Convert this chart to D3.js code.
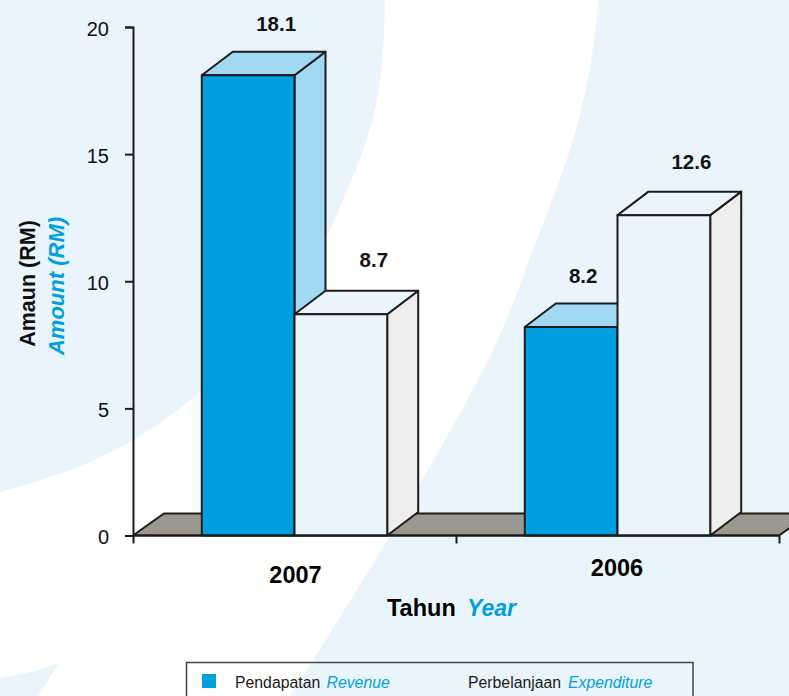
<!DOCTYPE html>
<html>
<head>
<meta charset="utf-8">
<script src="https://cdn.jsdelivr.net/npm/d3@7"></script>
<style>
  body { margin: 0; background: #fff; overflow: hidden; }
  text { font-family: "Liberation Sans", Arial, sans-serif; }
</style>
</head>
<body>
<script>
// Chart data
const years = ["2007", "2006"];
const seriesNames = ["Pendapatan", "Perbelanjaan"];
const seriesNamesEn = ["Revenue", "Expenditure"];
const revenue = [18.1, 8.2];
const expenditure = [8.7, 12.6];
const yTicks = [0, 5, 10, 15, 20];

// Set up the dimensions of the chart
const width = 789, height = 696;
const x0 = 133, x1 = 779, y0 = 535.5, y20 = 27;
const depthX = 31, depthY = 23.5;

const blue = "#009fe0", paleBlue = "#a1d9f5", tint = "#eaf5fb", sideGrey = "#ecedec";
const floorGrey = "#9c9791", ink = "#1c1c1c";

const seriesStyle = [
    { front: blue, top: paleBlue, side: paleBlue },
    { front: tint, top: tint, side: sideGrey }
];

const svg = d3.select("body")
    .append("svg")
    .attr("width", width)
    .attr("height", height)
    .style("display", "block");

// Background swooshes behind the chart
const swoosh = d3.line().curve(d3.curveCatmullRom.alpha(0.5));
const leftEdge = [[385, 0], [383, 50], [377, 100], [363, 150], [343, 200], [327, 235], [270, 320], [200, 392], [133, 440], [70, 470], [0, 492]];
const rightEdge = [[599, 0], [590, 67], [573, 140], [533, 250], [493, 350], [390, 535], [313, 660], [290, 696]];
const cornerEdge = [[0, 678], [30, 672], [59, 663]];

svg.append("path")
    .attr("d", swoosh(leftEdge) + "L0,0Z")
    .attr("fill", tint);
svg.append("path")
    .attr("d", swoosh(rightEdge) + "L789,696L789,0Z")
    .attr("fill", tint);
svg.append("path")
    .attr("d", swoosh(cornerEdge) + "L38,696L0,696Z")
    .attr("fill", tint);

// Scales
const xScale = d3.scaleBand().domain(years).range([x0, x1]);
const barScale = d3.scaleBand().domain(d3.range(2)).range([0, xScale.bandwidth()]).paddingOuter(0.742);
const yScale = d3.scaleLinear().domain([0, 20]).range([y0, y20]);

// Floor
svg.append("path")
    .attr("d", d3.line()([[x0, y0], [x0 + depthX, y0 - depthY + 1.5], [x1 + depthX, y0 - depthY + 1.5], [x1, y0]]) + "Z")
    .attr("fill", floorGrey)
    .attr("stroke", ink)
    .attr("stroke-width", 2);

// Bars, left to right so the nearer faces cover the sides behind them
const bars = [];
years.forEach((year, i) => {
    [revenue[i], expenditure[i]].forEach((value, s) => bars.push({ year, s, value }));
});

const barGroups = svg.selectAll("g.bar")
    .data(bars)
    .enter()
    .append("g")
    .attr("class", "bar")
    .attr("stroke", ink)
    .attr("stroke-width", 2)
    .attr("stroke-linejoin", "round");

const left = d => xScale(d.year) + barScale(d.s);
const right = d => left(d) + barScale.bandwidth();

barGroups.append("path")
    .attr("fill", d => seriesStyle[d.s].side)
    .attr("d", d => d3.line()([
        [right(d), yScale(d.value)],
        [right(d) + depthX, yScale(d.value) - depthY],
        [right(d) + depthX, y0 - depthY],
        [right(d), y0]
    ]) + "Z");

barGroups.append("path")
    .attr("fill", d => seriesStyle[d.s].top)
    .attr("d", d => d3.line()([
        [left(d), yScale(d.value)],
        [left(d) + depthX, yScale(d.value) - depthY],
        [right(d) + depthX, yScale(d.value) - depthY],
        [right(d), yScale(d.value)]
    ]) + "Z");

barGroups.append("rect")
    .attr("fill", d => seriesStyle[d.s].front)
    .attr("x", left)
    .attr("y", d => yScale(d.value))
    .attr("width", barScale.bandwidth())
    .attr("height", d => y0 - yScale(d.value));

// Value labels sit by hand in the original, so each one has its own nudge
const labelNudgeX = { "2007": [28, 33], "2006": [12, 27.5] };
const labelNudgeY = { "2007": [-44.3, -47.3], "2006": [-44, -46.1] };

svg.selectAll("text.value")
    .data(bars)
    .enter()
    .append("text")
    .attr("class", "value")
    .attr("x", d => left(d) + barScale.bandwidth() / 2 + labelNudgeX[d.year][d.s])
    .attr("y", d => yScale(d.value) + labelNudgeY[d.year][d.s])
    .attr("text-anchor", "middle")
    .attr("font-size", 20.5)
    .attr("font-weight", "bold")
    .attr("fill", "#111")
    .text(d => d.value.toFixed(1));

// Axes
const yAxis = d3.axisLeft(yScale).tickValues(yTicks).tickSize(8).tickPadding(16);
const yAxisG = svg.append("g").attr("transform", "translate(" + x0 + ",0)").call(yAxis);
yAxisG.selectAll("path, line").attr("stroke", ink).attr("stroke-width", 2);
yAxisG.selectAll("text").attr("font-size", 20).attr("fill", "#111").attr("dy", "0.41em")
    .style("font-family", "'Liberation Sans', Arial, sans-serif");

const xAxis = d3.axisBottom(d3.scaleLinear().domain([0, 2]).range([x0, x1]))
    .ticks(2).tickSize(8).tickFormat("");
const xAxisG = svg.append("g").attr("transform", "translate(0," + y0 + ")").call(xAxis);
xAxisG.selectAll("path, line").attr("stroke", ink).attr("stroke-width", 2);
xAxisG.select("path").attr("d", "M" + x0 + ",0H" + x1);

// Year labels
const yearBaseline = { "2007": 583, "2006": 576 };
const yearNudge = { "2007": 1, "2006": -0.5 };
svg.selectAll("text.year")
    .data(years)
    .enter()
    .append("text")
    .attr("class", "year")
    .attr("x", d => xScale(d) + xScale.bandwidth() / 2 + yearNudge[d])
    .attr("y", d => yearBaseline[d])
    .attr("text-anchor", "middle")
    .attr("font-size", 23.5)
    .attr("font-weight", "bold")
    .attr("fill", "#000")
    .text(d => d);

// Axis titles
svg.append("text")
    .attr("x", 387).attr("y", 616)
    .attr("font-size", 23.5).attr("font-weight", "bold").attr("fill", "#000")
    .text("Tahun");
svg.append("text")
    .attr("x", 467).attr("y", 616)
    .attr("font-size", 23).attr("font-weight", "bold").attr("font-style", "italic").attr("fill", blue)
    .text("Year");

svg.append("text")
    .attr("transform", "translate(35,283.5) rotate(-90)")
    .attr("text-anchor", "middle")
    .attr("font-size", 21.5).attr("font-weight", "bold").attr("fill", "#111")
    .text("Amaun (RM)");
svg.append("text")
    .attr("transform", "translate(64,286) rotate(-90)")
    .attr("text-anchor", "middle")
    .attr("font-size", 22).attr("font-weight", "bold").attr("font-style", "italic").attr("fill", blue)
    .text("Amount (RM)");

// Legend, its box runs off the bottom of the picture
svg.append("rect")
    .attr("x", 186.5).attr("y", 662.5)
    .attr("width", 506.5).attr("height", 60)
    .attr("fill", "none")
    .attr("stroke", "#444")
    .attr("stroke-width", 1.5);

const legendSwatchX = [202, 435];
const legendNameX = [235, 468];
const legendEnX = [326.5, 568];

seriesNames.forEach((name, s) => {
    svg.append("rect")
        .attr("x", legendSwatchX[s]).attr("y", 674)
        .attr("width", 14).attr("height", 14)
        .attr("fill", seriesStyle[s].front);
    svg.append("text")
        .attr("x", legendNameX[s]).attr("y", 688)
        .attr("font-size", 15.8).attr("fill", "#1a1a1a")
        .text(name);
    svg.append("text")
        .attr("x", legendEnX[s]).attr("y", 688)
        .attr("font-size", 15.8).attr("font-style", "italic").attr("fill", blue)
        .text(seriesNamesEn[s]);
});
</script>
</body>
</html>
